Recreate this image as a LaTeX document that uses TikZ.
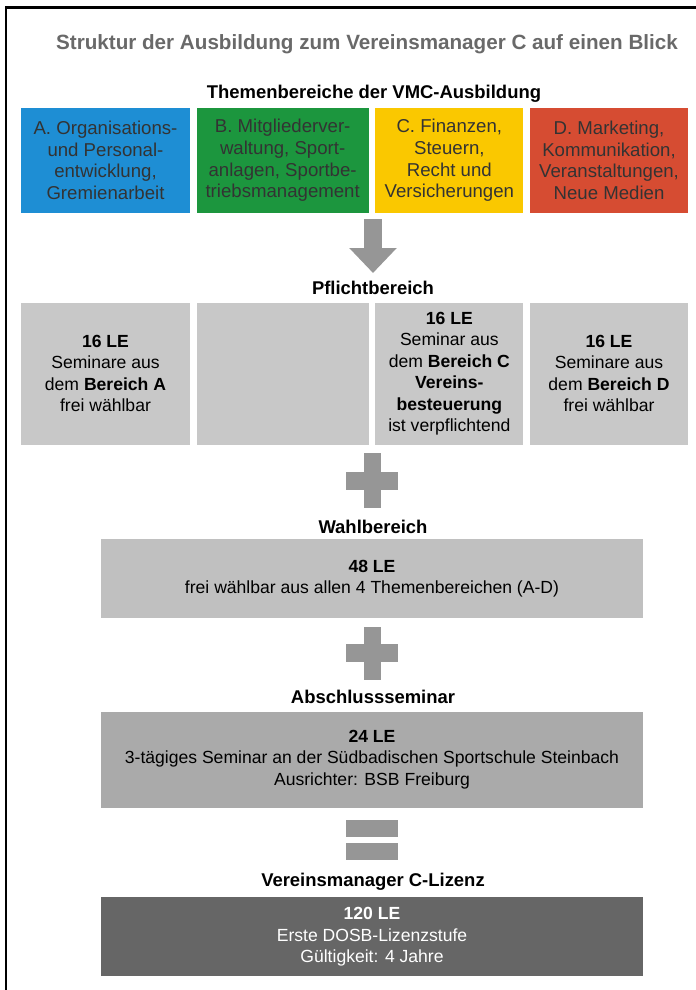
\documentclass[tikz,border=0pt]{standalone}
\usepackage{fontspec}
\setmainfont{Liberation Sans}
\usetikzlibrary{positioning,arrows.meta}

\definecolor{themeblue}{RGB}{30,142,212}
\definecolor{themegreen}{RGB}{28,150,62}
\definecolor{themeyellow}{RGB}{250,200,0}
\definecolor{themered}{RGB}{214,76,50}
\definecolor{pflichtgray}{RGB}{200,200,200}
\definecolor{wahlgray}{RGB}{192,192,192}
\definecolor{abschlussgray}{RGB}{170,170,170}
\definecolor{lizenzgray}{RGB}{102,102,102}
\definecolor{signgray}{RGB}{150,150,150}
\definecolor{titlegray}{RGB}{105,105,105}

\begin{document}
\begin{tikzpicture}[
    x=0.02cm, y=-0.02cm,
    every node/.style={font=\fontsize{10}{12.2}\selectfont},
    theme/.style={rectangle, minimum height=2.1cm, inner sep=0pt, align=center, text=black!80,
        font=\fontsize{10.6}{12.3}\selectfont},
    pflicht/.style={rectangle, fill=pflichtgray, minimum height=2.84cm, inner sep=0pt, align=center},
    stage/.style={rectangle, minimum width=10.84cm, inner sep=0pt, align=center},
    heading/.style={font=\fontsize{10.5}{12}\selectfont\bfseries},
    sign/.style={fill=signgray},
    bigarrow/.style={draw=signgray, line width=0.36cm, -{Triangle[width=0.92cm,length=0.5cm]}}
]
\useasboundingbox (0,0) rectangle (696,990);
% frame
\draw[line width=1.4pt] (6,990) -- (6,7.5) -- (696,7.5);
% title
\node[font=\fontsize{11.75}{13}\selectfont\bfseries, text=titlegray] (title) at (367,44)
    {Struktur der Ausbildung zum Vereinsmanager C auf einen Blick};
% Themenbereiche
\node[heading] (themelabel) at (374,94) {Themenbereiche der VMC-Ausbildung};
\node[theme, fill=themeblue, minimum width=3.38cm] (themeA) at (105.5,160.5)
    {A. Organisations-\\und Personal-\\entwicklung,\\Gremienarbeit};
\node[theme, fill=themegreen, minimum width=3.44cm, right=0.12cm of themeA] (themeB)
    {B. Mitgliederver-\\waltung, Sport-\\anlagen, Sportbe-\\triebsmanagement};
\node[theme, fill=themeyellow, minimum width=2.96cm, right=0.12cm of themeB] (themeC)
    {C. Finanzen,\\Steuern,\\Recht und\\Versicherungen};
\node[theme, fill=themered, minimum width=3.16cm, right=0.12cm of themeC] (themeD)
    {D. Marketing,\\Kommunikation,\\Veranstaltungen,\\Neue Medien};
% arrow
\coordinate (arrowtop) at (373,219);
\coordinate (arrowtip) at (373,273);
\draw[bigarrow] (arrowtop) -- (arrowtip);
% Pflichtbereich
\node[heading] (pflichtlabel) at (373,288) {Pflichtbereich};
\node[pflicht, minimum width=3.38cm, below=1.78cm of themeA] (pflichtA)
    {\textbf{16 LE}\\Seminare aus\\dem \textbf{Bereich A}\\frei wählbar};
\node[pflicht, minimum width=3.44cm, below=1.78cm of themeB] (pflichtB) {};
\node[pflicht, minimum width=2.96cm, below=1.78cm of themeC] (pflichtC)
    {\textbf{16 LE}\\Seminar aus\\dem \textbf{Bereich C}\\\textbf{Vereins-}\\\textbf{besteuerung}\\ist verpflichtend};
\node[pflicht, minimum width=3.16cm, below=1.78cm of themeD] (pflichtD)
    {\textbf{16 LE}\\Seminare aus\\dem \textbf{Bereich D}\\frei wählbar};
% plus
\fill[sign] (364,453) rectangle (381,508);
\fill[sign] (346,472) rectangle (398,490);
% Wahlbereich
\node[heading] (wahllabel) at (373,527) {Wahlbereich};
\node[stage, fill=wahlgray, minimum height=1.58cm] (wahl) at (372,578.5)
    {\textbf{48 LE}\\frei wählbar aus allen 4 Themenbereichen (A-D)};
% plus
\fill[sign] (364,627) rectangle (381,680);
\fill[sign] (346,644) rectangle (398,662);
% Abschlussseminar
\node[heading] (abschlusslabel) at (373,697) {Abschlussseminar};
\node[stage, fill=abschlussgray, minimum height=1.92cm, below=1.86cm of wahl] (abschluss)
    {\textbf{24 LE}\\3-tägiges Seminar an der Südbadischen Sportschule Steinbach\\Ausrichter: BSB Freiburg};
% equals
\fill[sign] (346,820) rectangle (398,837);
\fill[sign] (346,843) rectangle (398,860);
% Lizenz
\node[heading] (lizenzlabel) at (373,882) {Vereinsmanager C-Lizenz};
\node[stage, fill=lizenzgray, text=white, minimum height=1.58cm, below=1.78cm of abschluss] (lizenz)
    {\textbf{120 LE}\\Erste DOSB-Lizenzstufe\\Gültigkeit: 4 Jahre};
\end{tikzpicture}
\end{document}
